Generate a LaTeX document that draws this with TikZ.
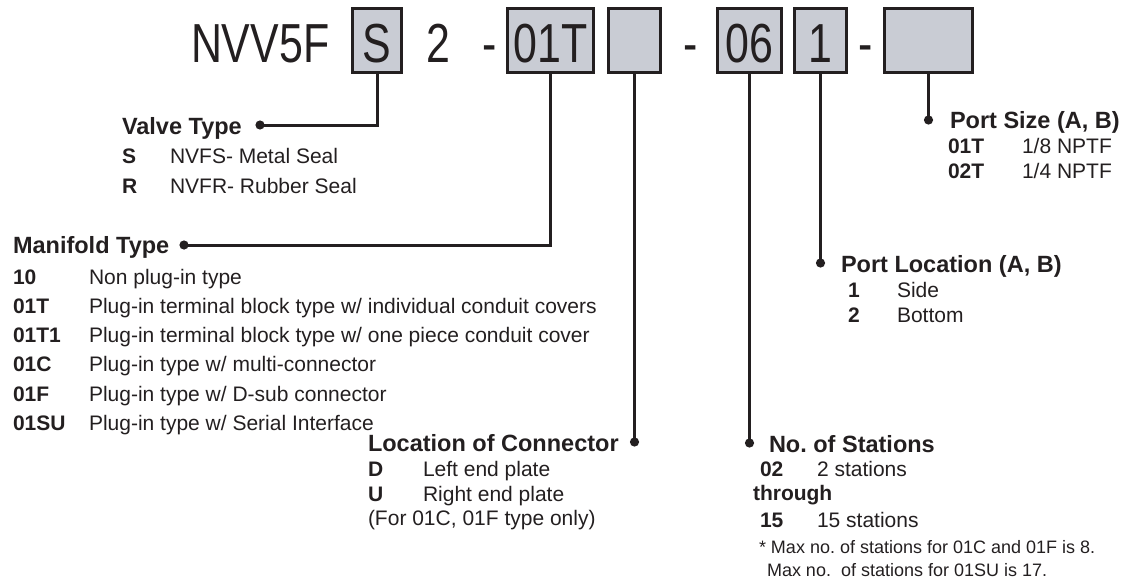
\documentclass[tikz,border=0pt]{standalone}
\usepackage{fontspec}
\setmainfont{Liberation Sans}
\newfontfamily\hdrfont[FakeStretch=0.78]{Liberation Sans}
\definecolor{ink}{HTML}{231F20}
\definecolor{boxfill}{HTML}{C9CCD4}
\frenchspacing
\begin{document}
\begin{tikzpicture}[x=1pt,y=-1pt,
  every node/.style={inner sep=0pt, outer sep=0pt, text=ink},
  codebox/.style={draw=ink, fill=boxfill, line width=2.6pt, text height=54.2pt, text depth=10.2pt, anchor=base, font=\hdrfont\fontsize{55}{55}\selectfont},
  hdr/.style={anchor=base, font=\hdrfont\fontsize{55}{55}\selectfont},
  ttl/.style={anchor=base west, font=\bfseries\fontsize{23.5}{24}\selectfont},
  code/.style={anchor=base west, font=\bfseries\fontsize{21}{22}\selectfont},
  desc/.style={anchor=base west, font=\fontsize{21}{22}\selectfont},
  note/.style={anchor=base west, font=\fontsize{18}{19}\selectfont},
  conn/.style={draw=ink, line width=3pt},
  dotfill/.style={fill=ink}
]
\useasboundingbox (0,0) rectangle (1129,578);

% header code
\node[hdr, anchor=base west] (nvv) at (191,62.5) {NVV5F};
\node[codebox, minimum width=49.4] (bS) at (377,62.5) {S};
\node[hdr] (h2) at (438.5,62.5) {2};
\node[hdr] (hy1) at (489.5,62.5) {-};
\node[codebox, minimum width=86.4] (b01T) at (550.5,62.5) {01T};
\node[codebox, minimum width=52.4] (bLoc) at (634.5,62.5) {};
\node[hdr] (hy2) at (691,62.5) {-};
\node[codebox, minimum width=64.4] (b06) at (749.5,62.5) {06};
\node[codebox, minimum width=52.4] (b1) at (820.5,62.5) {1};
\node[hdr] (hy3) at (866,62.5) {-};
\node[codebox, minimum width=88.4] (bPS) at (928.5,62.5) {};

% dot coordinates
\coordinate (dVT) at (260,125);
\coordinate (dMT) at (184,245);
\coordinate (dLC) at (634.5,442);
\coordinate (dNS) at (749.5,443);
\coordinate (dPL) at (820.5,263);
\coordinate (dPS) at (928.5,120);

% connectors
\draw[conn] (bS.south) |- (dVT);
\draw[conn] (b01T.south) |- (dMT);
\draw[conn] (bLoc.south) -- (dLC);
\draw[conn] (b06.south) -- (dNS);
\draw[conn] (b1.south) -- (dPL);
\draw[conn] (bPS.south) -- (dPS);
\foreach \d in {dVT,dMT,dLC,dNS,dPL,dPS} \fill[dotfill] (\d) circle (4.6pt);

% Valve type
\node[ttl] (tVT) at (122,134) {Valve Type};
\node[code] (cS) at (122,163) {S};
\node[desc] (xS) at (170,163) {NVFS- Metal Seal};
\node[code] (cR) at (122,193) {R};
\node[desc] (xR) at (170,193) {NVFR- Rubber Seal};

% Manifold type
\node[ttl] (tMT) at (13,253) {Manifold Type};
\node[code] (c10) at (13,284) {10};
\node[desc] (x10) at (89,284) {Non plug-in type};
\node[code] (c01T) at (13,313) {01T};
\node[desc] (x01T) at (89,313) {Plug-in terminal block type w/ individual conduit covers};
\node[code] (c01T1) at (13,342) {01T1};
\node[desc] (x01T1) at (89,342) {Plug-in terminal block type w/ one piece conduit cover};
\node[code] (c01C) at (13,371.5) {01C};
\node[desc] (x01C) at (89,371.5) {Plug-in type w/ multi-connector};
\node[code] (c01F) at (13,401) {01F};
\node[desc] (x01F) at (89,401) {Plug-in type w/ D-sub connector};
\node[code] (c01SU) at (13,430) {01SU};
\node[desc] (x01SU) at (89,430) {Plug-in type w/ Serial Interface};

% Location of connector
\node[ttl] (tLC) at (368,451) {Location of Connector};
\node[code] (cD) at (368,476) {D};
\node[desc] (xD) at (423,476) {Left end plate};
\node[code] (cU) at (368,501) {U};
\node[desc] (xU) at (423,501) {Right end plate};
\node[desc] (xFor) at (368,525) {(For 01C, 01F type only)};

% No. of stations
\node[ttl] (tNS) at (769,452) {No. of Stations};
\node[code] (c02) at (760,476) {02};
\node[desc] (x02) at (817,476) {2 stations};
\node[code] (cthr) at (753,500) {through};
\node[code] (c15) at (760,527) {15};
\node[desc] (x15) at (817,527) {15 stations};
\node[note] (n1) at (759,553) {* Max no. of stations for 01C and 01F is 8.};
\node[note] (n2) at (767,576) {Max no.\ \ of stations for 01SU is 17.};

% Port size
\node[ttl] (tPS) at (950,128) {Port Size (A, B)};
\node[code] (cP1) at (948,153) {01T};
\node[desc] (xP1) at (1022,153) {1/8 NPTF};
\node[code] (cP2) at (948,178) {02T};
\node[desc] (xP2) at (1022,178) {1/4 NPTF};

% Port location
\node[ttl] (tPL) at (841,272) {Port Location (A, B)};
\node[code] (cL1) at (848,297) {1};
\node[desc] (xL1) at (897,297) {Side};
\node[code] (cL2) at (848,322) {2};
\node[desc] (xL2) at (897,322) {Bottom};
\end{tikzpicture}
\end{document}
